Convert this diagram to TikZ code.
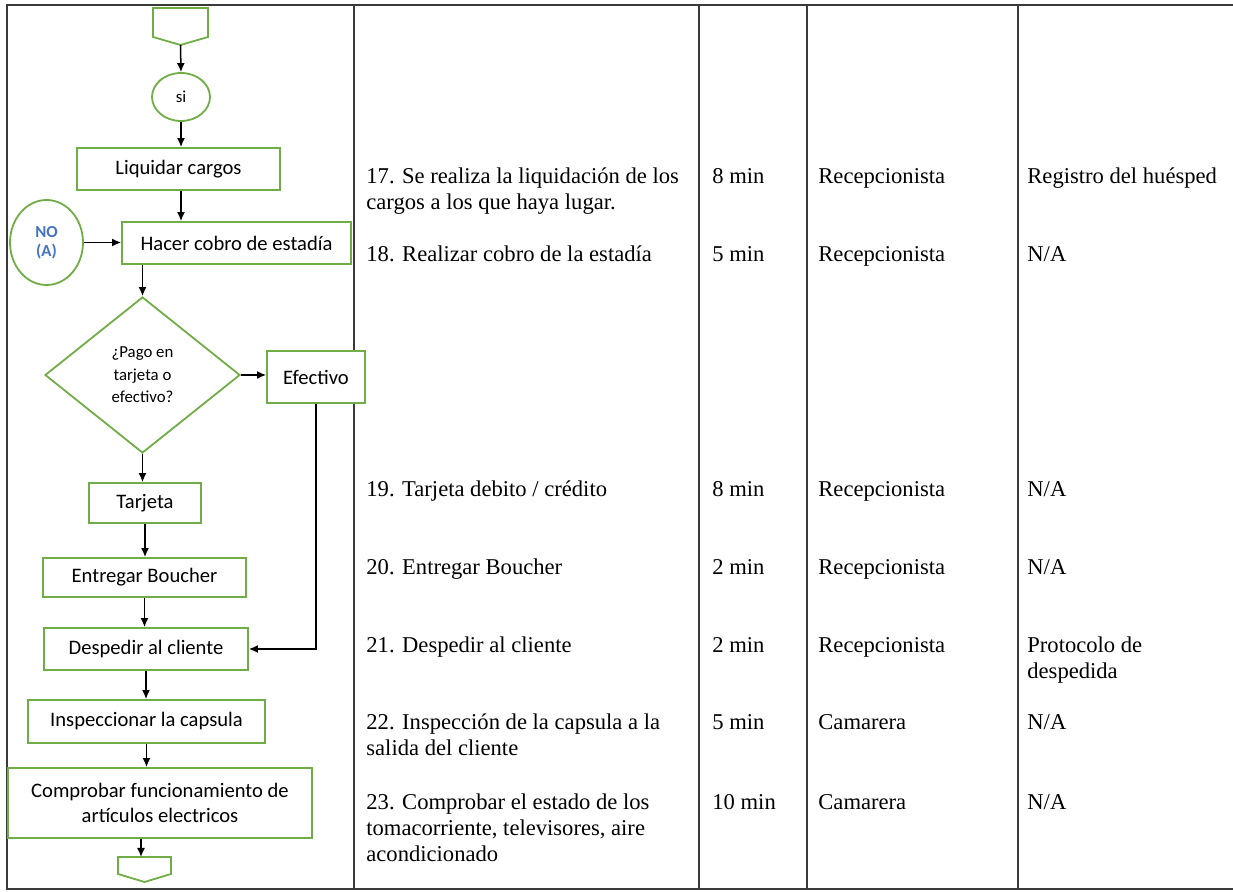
\documentclass[tikz,border=0pt]{standalone}
\usepackage{fontspec}
\setmainfont{Liberation Serif}
\newfontfamily\flowfont{Carlito}
\usetikzlibrary{arrows, arrows.meta, shapes.geometric, calc, positioning}
\definecolor{flowGreen}{HTML}{70AD47}
\definecolor{noBlue}{HTML}{4472C4}
\definecolor{gridGray}{HTML}{3A3A3A}
\tikzset{
    procBox/.style={rectangle, draw=flowGreen, line width=0.9pt, fill=white, inner sep=1pt, align=center, font=\flowfont\fontsize{10.3}{12.5}\selectfont},
    termOval/.style={ellipse, draw=flowGreen, line width=0.9pt, fill=white, inner sep=0pt, align=center},
    decDiamond/.style={diamond, draw=flowGreen, line width=0.9pt, fill=white, inner sep=0pt, align=center, font=\flowfont\fontsize{8.4}{11.3}\selectfont},
    offPage/.style={draw=flowGreen, line width=0.9pt, fill=white},
    flowEdge/.style={->, >={Latex[length=4.5pt, width=4pt]}, line width=0.75pt},
    gridLine/.style={draw=gridGray, line width=0.9pt},
    cellText/.style={anchor=base west, inner sep=0pt, font=\fontsize{11.3}{13}\selectfont},
}
% una fila de la tabla: nombre, altura, actividad, tiempo, responsable, documento
\newcommand{\tableRow}[6]{
    \node[cellText] (#1act) at (366, #2) {\begin{tabular}[t]{@{}l@{}}#3\end{tabular}};
    \node[cellText] (#1tim) at (712, #2) {#4};
    \node[cellText] (#1who) at (818, #2) {#5};
    \node[cellText] (#1doc) at (1027, #2) {\begin{tabular}[t]{@{}l@{}}#6\end{tabular}};
}

\begin{document}
\begin{tikzpicture}[x=0.5pt, y=-0.5pt]

        \useasboundingbox (0,0) rectangle (1233,892);

        \draw[gridLine] (1233,5) -- (7,5) -- (7,889) -- (1233,889);
        \foreach \xc in {354, 699, 807, 1018}
            \draw[gridLine] (\xc,5) -- (\xc,889);

        \draw[offPage] (153,8) -- (208,8) -- (208,37) -- (180.5,45) -- (153,37) -- cycle;
        \coordinate (topTip) at (180.5,45);
        \draw[offPage] (118,857) -- (171,857) -- (171,874) -- (144.5,882) -- (118,874) -- cycle;
        \coordinate (botTop) at (141,857);

        \node[termOval, minimum width=29pt, minimum height=24pt, font=\flowfont\fontsize{8.4}{10}\selectfont] (si) at (181,97) {si};
        \node[procBox, minimum width=101.5pt, minimum height=21pt] (liq) at (178.5,169) {Liquidar cargos};
        \node[procBox, minimum width=114.5pt, minimum height=21pt] (cobro) at (236.5,243) {Hacer cobro de estadía};
        \node[termOval, minimum width=36.5pt, minimum height=42.5pt, text=noBlue, font=\flowfont\bfseries\fontsize{8.4}{9.5}\selectfont] (noA) at (46.5,242.5) {NO\\(A)};
        \node[decDiamond, minimum width=97.5pt, minimum height=78pt] (pago) at (142.5,375) {¿Pago en\\tarjeta o\\efectivo?};
        \node[procBox, minimum width=49pt, minimum height=26pt] (efec) at (316,377) {Efectivo};
        \node[procBox, minimum width=56pt, minimum height=20pt] (tarj) at (145,503) {Tarjeta};
        \node[procBox, minimum width=101.5pt, minimum height=19.5pt] (entr) at (144.5,577.5) {Entregar Boucher};
        \node[procBox, minimum width=102pt, minimum height=21pt] (desp) at (146,649) {Despedir al cliente};
        \node[procBox, minimum width=118.5pt, minimum height=21.5pt] (insp) at (146.5,721.5) {Inspeccionar la capsula};
        \node[procBox, minimum width=152pt, minimum height=35pt] (comp) at (160,803) {Comprobar funcionamiento de\\artículos electricos};

        \draw[flowEdge] (topTip) -- (si.north);
        \draw[flowEdge] (si.south) -- (si.south |- liq.north);
        \draw[flowEdge] (liq.south -| si.south) -- (si.south |- cobro.north);
        \draw[flowEdge] (noA.east) -- (noA.east -| cobro.west);
        \draw[flowEdge] (cobro.south -| pago.north) -- (pago.north);
        \draw[flowEdge] (pago.east) -- (pago.east -| efec.west);
        \draw[flowEdge] (pago.south) -- (pago.south |- tarj.north);
        \draw[flowEdge] (tarj.south) -- (tarj.south |- entr.north);
        \draw[flowEdge] (entr.south) -- (entr.south |- desp.north);
        \draw[flowEdge] (efec.south) |- (desp.east);
        \draw[flowEdge] (desp.south) -- (desp.south |- insp.north);
        \draw[flowEdge] (insp.south) -- (insp.south |- comp.north);
        \draw[flowEdge] (comp.south -| botTop) -- (botTop);

        \tableRow{r17}{184}{17. Se realiza la liquidación de los\\cargos a los que haya lugar.}{8 min}{Recepcionista}{Registro del huésped}
        \tableRow{r18}{262}{18. Realizar cobro de la estadía}{5 min}{Recepcionista}{N/A}
        \tableRow{r19}{497}{19. Tarjeta debito / crédito}{8 min}{Recepcionista}{N/A}
        \tableRow{r20}{575}{20. Entregar Boucher}{2 min}{Recepcionista}{N/A}
        \tableRow{r21}{653}{21. Despedir al cliente}{2 min}{Recepcionista}{Protocolo de\\despedida}
        \tableRow{r22}{730}{22. Inspección de la capsula a la\\salida del cliente}{5 min}{Camarera}{N/A}
        \tableRow{r23}{810}{23. Comprobar el estado de los\\tomacorriente, televisores, aire\\acondicionado}{10 min}{Camarera}{N/A}

    \end{tikzpicture}
\end{document}
